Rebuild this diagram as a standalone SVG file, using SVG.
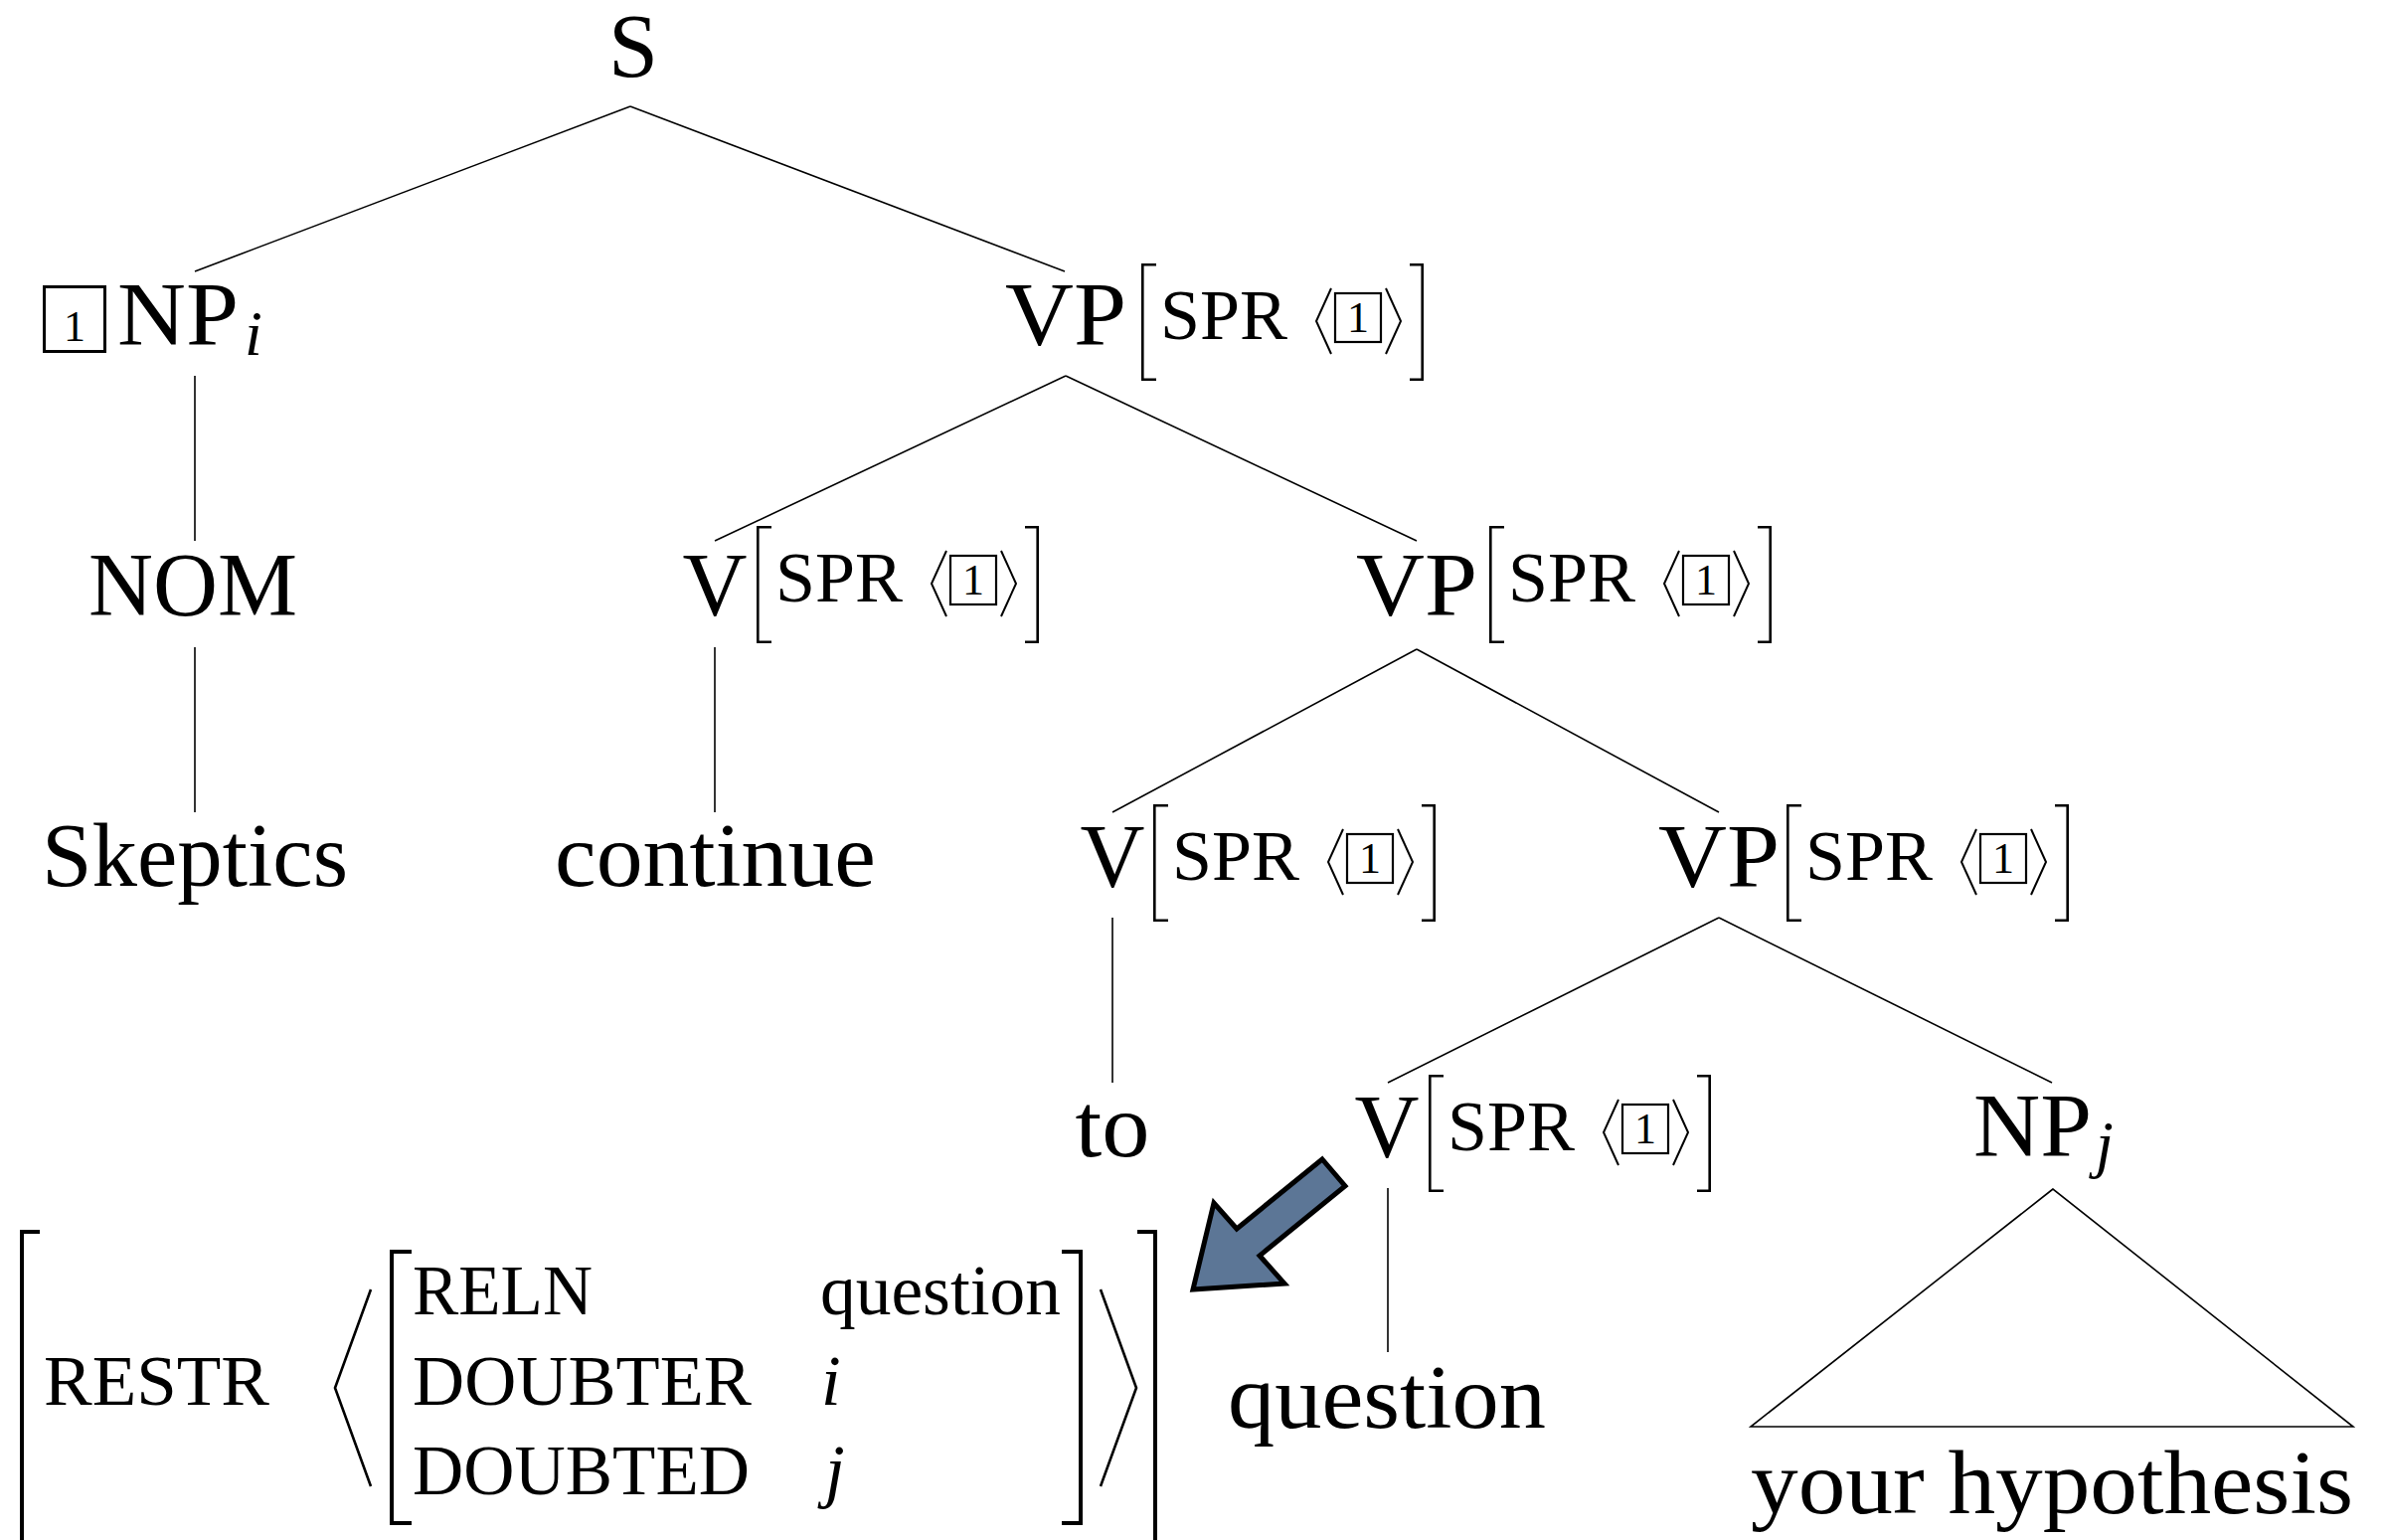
<svg xmlns="http://www.w3.org/2000/svg" width="2397" height="1549" viewBox="0 0 2397 1549">
<style>
.cat{font-family:"Liberation Serif","Times New Roman",serif;font-size:90px;fill:#000}
.ft{font-family:"Liberation Serif","Times New Roman",serif;font-size:72px;fill:#000}
.avm{font-family:"Liberation Serif","Times New Roman",serif;font-size:71px;fill:#000}
.it{font-family:"Liberation Serif","Times New Roman",serif;font-style:italic;fill:#000}
.tag{font-family:"Liberation Serif","Times New Roman",serif;font-size:44px;fill:#000;text-anchor:middle}
.mid{text-anchor:middle}
.edge{stroke:#000;stroke-width:1.6;fill:none}
.brk{stroke:#000;stroke-width:2.6;fill:none;stroke-linecap:butt}
.ang{stroke:#000;stroke-width:2;fill:none}
.box{stroke:#000;stroke-width:2.2;fill:none}
.bigbrk{stroke:#000;stroke-width:4;fill:none}
.bigang{stroke:#000;stroke-width:2.6;fill:none}
</style>

<g id="connectors">
<line class="edge" x1="634" y1="107" x2="196" y2="273"/>
<line class="edge" x1="634" y1="107" x2="1071" y2="273"/>
<line class="edge" x1="196" y1="378" x2="196" y2="544"/>
<line class="edge" x1="1072" y1="378" x2="719" y2="544"/>
<line class="edge" x1="1072" y1="378" x2="1425" y2="544"/>
<line class="edge" x1="196" y1="651" x2="196" y2="817"/>
<line class="edge" x1="719" y1="651" x2="719" y2="817"/>
<line class="edge" x1="1425" y1="653" x2="1119" y2="817"/>
<line class="edge" x1="1425" y1="653" x2="1729" y2="817"/>
<line class="edge" x1="1119" y1="923" x2="1119" y2="1089"/>
<line class="edge" x1="1729" y1="923" x2="1396" y2="1089"/>
<line class="edge" x1="1729" y1="923" x2="2064" y2="1089"/>
<line class="edge" x1="1396" y1="1195" x2="1396" y2="1360"/>
<polygon class="edge" points="2065,1196 1761,1435 2367,1435"/>
</g>

<g id="node-S">
<text class="cat mid" x="637" y="77">S</text>
</g>

<g id="node-NPi">
<rect x="44.5" y="288.5" width="61" height="65" fill="none" stroke="#000" stroke-width="3"/>
<text class="tag" x="75" y="343">1</text>
<text class="cat" x="118" y="347" textLength="122" lengthAdjust="spacingAndGlyphs">NP</text>
<text class="it" x="246" y="357" font-size="64">i</text>
</g>

<g id="node-VP1">
<text class="cat mid" x="1072" y="347" textLength="122" lengthAdjust="spacingAndGlyphs">VP</text>
<g transform="translate(1148,265)">
<path class="brk" d="M15 1.3H1.3V116.7H15"/>
<text class="ft" x="19" y="76" textLength="128" lengthAdjust="spacingAndGlyphs">SPR</text>
<polyline class="ang" points="191,25 176,58 191,91"/>
<rect class="box" x="195" y="30" width="46" height="49"/>
<text class="tag" x="218" y="69">1</text>
<polyline class="ang" points="246,25 261,58 246,91"/>
<path class="brk" d="M270 1.3H282.7V116.7H270"/>
</g>
</g>

<g id="node-NOM">
<text class="cat" x="89" y="619" textLength="210" lengthAdjust="spacingAndGlyphs">NOM</text>
</g>

<g id="node-V1">
<text class="cat mid" x="719" y="619">V</text>
<g transform="translate(761,529)">
<path class="brk" d="M15 1.3H1.3V116.7H15"/>
<text class="ft" x="19" y="76" textLength="128" lengthAdjust="spacingAndGlyphs">SPR</text>
<polyline class="ang" points="191,25 176,58 191,91"/>
<rect class="box" x="195" y="30" width="46" height="49"/>
<text class="tag" x="218" y="69">1</text>
<polyline class="ang" points="246,25 261,58 246,91"/>
<path class="brk" d="M270 1.3H282.7V116.7H270"/>
</g>
</g>

<g id="node-VP2">
<text class="cat mid" x="1425" y="619" textLength="122" lengthAdjust="spacingAndGlyphs">VP</text>
<g transform="translate(1498,529)">
<path class="brk" d="M15 1.3H1.3V116.7H15"/>
<text class="ft" x="19" y="76" textLength="128" lengthAdjust="spacingAndGlyphs">SPR</text>
<polyline class="ang" points="191,25 176,58 191,91"/>
<rect class="box" x="195" y="30" width="46" height="49"/>
<text class="tag" x="218" y="69">1</text>
<polyline class="ang" points="246,25 261,58 246,91"/>
<path class="brk" d="M270 1.3H282.7V116.7H270"/>
</g>
</g>

<g id="node-Skeptics">
<text class="cat" x="42" y="891" textLength="308" lengthAdjust="spacingAndGlyphs">Skeptics</text>
</g>

<g id="node-continue">
<text class="cat" x="558" y="891" textLength="323" lengthAdjust="spacingAndGlyphs">continue</text>
</g>

<g id="node-V2">
<text class="cat mid" x="1119" y="892">V</text>
<g transform="translate(1160,809)">
<path class="brk" d="M15 1.3H1.3V116.7H15"/>
<text class="ft" x="19" y="76" textLength="128" lengthAdjust="spacingAndGlyphs">SPR</text>
<polyline class="ang" points="191,25 176,58 191,91"/>
<rect class="box" x="195" y="30" width="46" height="49"/>
<text class="tag" x="218" y="69">1</text>
<polyline class="ang" points="246,25 261,58 246,91"/>
<path class="brk" d="M270 1.3H282.7V116.7H270"/>
</g>
</g>

<g id="node-VP3">
<text class="cat mid" x="1729" y="892" textLength="122" lengthAdjust="spacingAndGlyphs">VP</text>
<g transform="translate(1797,809)">
<path class="brk" d="M15 1.3H1.3V116.7H15"/>
<text class="ft" x="19" y="76" textLength="128" lengthAdjust="spacingAndGlyphs">SPR</text>
<polyline class="ang" points="191,25 176,58 191,91"/>
<rect class="box" x="195" y="30" width="46" height="49"/>
<text class="tag" x="218" y="69">1</text>
<polyline class="ang" points="246,25 261,58 246,91"/>
<path class="brk" d="M270 1.3H282.7V116.7H270"/>
</g>
</g>

<g id="node-to">
<text class="cat mid" x="1119" y="1163" textLength="75" lengthAdjust="spacingAndGlyphs">to</text>
</g>

<g id="node-V3">
<text class="cat mid" x="1395" y="1164">V</text>
<g transform="translate(1437,1081)">
<path class="brk" d="M15 1.3H1.3V116.7H15"/>
<text class="ft" x="19" y="76" textLength="128" lengthAdjust="spacingAndGlyphs">SPR</text>
<polyline class="ang" points="191,25 176,58 191,91"/>
<rect class="box" x="195" y="30" width="46" height="49"/>
<text class="tag" x="218" y="69">1</text>
<polyline class="ang" points="246,25 261,58 246,91"/>
<path class="brk" d="M270 1.3H282.7V116.7H270"/>
</g>
</g>

<g id="node-NPj">
<text class="cat" x="1985" y="1163" textLength="119" lengthAdjust="spacingAndGlyphs">NP</text>
<text class="it" x="2108" y="1172" font-size="64">j</text>
</g>

<g id="node-question">
<text class="cat" x="1235" y="1436" textLength="320" lengthAdjust="spacingAndGlyphs">question</text>
</g>

<g id="node-hypothesis">
<text class="cat" x="1761" y="1522" textLength="606" lengthAdjust="spacingAndGlyphs">your hypothesis</text>
</g>

<g id="arrow">
<polygon points="1330,1166 1353,1193 1267,1263 1292,1291 1200,1297 1221,1210 1244,1236" fill="#5c7696" stroke="#000" stroke-width="5" stroke-linejoin="miter"/>
</g>

<g id="avm">
<path class="bigbrk" d="M40 1239H22V1560"/>
<path class="bigbrk" d="M1144 1239H1162V1560"/>
<text class="avm" x="44" y="1413" textLength="227" lengthAdjust="spacingAndGlyphs">RESTR</text>
<polyline class="bigang" points="373,1297 337,1396 373,1495"/>
<path class="bigbrk" d="M414 1259H394V1532H414"/>
<text class="avm" x="415" y="1322" textLength="181" lengthAdjust="spacingAndGlyphs">RELN</text>
<text class="avm" x="415" y="1413" textLength="341" lengthAdjust="spacingAndGlyphs">DOUBTER</text>
<text class="avm" x="415" y="1503" textLength="339" lengthAdjust="spacingAndGlyphs">DOUBTED</text>
<text class="avm" x="825" y="1322" textLength="242" lengthAdjust="spacingAndGlyphs">question</text>
<text class="it" x="826" y="1413" font-size="71">i</text>
<text class="it" x="830" y="1503" font-size="71">j</text>
<path class="bigbrk" d="M1068 1259H1087V1532H1068"/>
<polyline class="bigang" points="1107,1297 1143,1396 1107,1495"/>
</g>
</svg>
